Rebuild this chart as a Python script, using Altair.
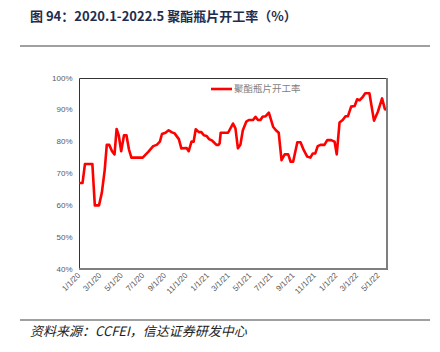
import altair as alt
import pandas as pd

dates = [
    "2020-01-01", "2020-01-11", "2020-01-18", "2020-02-08", "2020-02-15", "2020-02-27",
    "2020-03-06", "2020-03-14", "2020-03-20", "2020-03-27", "2020-04-04", "2020-04-11",
    "2020-04-17", "2020-04-23", "2020-04-30", "2020-05-08", "2020-05-15", "2020-05-22",
    "2020-05-29", "2020-06-30", "2020-07-16", "2020-07-30", "2020-08-09", "2020-08-18",
    "2020-08-24", "2020-09-03", "2020-09-12", "2020-09-20", "2020-09-29", "2020-10-11",
    "2020-10-18", "2020-11-02", "2020-11-08", "2020-11-16", "2020-11-22", "2020-11-28",
    "2020-12-07", "2020-12-14", "2020-12-21", "2020-12-29", "2021-01-05", "2021-01-14",
    "2021-01-26", "2021-02-01", "2021-02-04", "2021-02-07", "2021-02-28", "2021-03-14",
    "2021-03-21", "2021-03-28", "2021-04-04", "2021-04-11", "2021-04-21", "2021-04-28",
    "2021-05-10", "2021-05-17", "2021-05-24", "2021-05-31", "2021-06-06", "2021-06-15",
    "2021-06-24", "2021-07-06", "2021-07-14", "2021-07-22", "2021-07-30", "2021-08-08",
    "2021-08-18", "2021-08-25", "2021-09-01", "2021-09-13", "2021-09-22", "2021-10-01",
    "2021-10-11", "2021-10-20", "2021-10-27", "2021-11-03", "2021-11-10", "2021-11-18",
    "2021-11-29", "2021-12-07", "2021-12-18", "2021-12-28", "2022-01-03", "2022-01-11",
    "2022-01-20", "2022-01-28", "2022-02-04", "2022-02-13", "2022-02-23", "2022-03-02",
    "2022-03-09", "2022-03-17", "2022-03-25", "2022-04-06", "2022-04-19", "2022-04-30",
    "2022-05-12", "2022-05-20", "2022-05-26",
]
rates = [
    67, 67, 73, 73, 60, 60,
    64, 71, 79, 79, 77, 76,
    84, 82, 77, 82, 82, 77.6,
    75, 75, 76.8, 78.6, 79, 80,
    82.4, 82.8, 83.6, 83, 82.6, 80.8,
    77.9, 78, 77, 80, 80, 83.9,
    83, 83, 82, 81.8, 80.8, 80.3,
    79, 79, 79.5, 82.8, 82.8, 85.7,
    84.2, 77.9, 79, 83.6, 86.3, 86.8,
    86.8, 87.8, 86.8, 86.8, 87.8, 88,
    89.1, 84.7, 83.6, 82.8, 74.2, 76,
    76, 73.7, 73.7, 79.8, 79.8, 77.4,
    75.3, 75, 76.3, 76.3, 78.6, 79,
    79, 80.5, 80.5, 80, 76, 86,
    86.8, 88, 88, 91, 91.2, 93.3,
    93, 93.9, 95.2, 95.2, 86.6, 89.4,
    93.6, 90.2, 90,
]
tick_dates = [
    "2020-01-01", "2020-03-01", "2020-05-01", "2020-07-01", "2020-09-01", "2020-11-01",
    "2021-01-01", "2021-03-01", "2021-05-01", "2021-07-01", "2021-09-01", "2021-11-01",
    "2022-01-01", "2022-03-01", "2022-05-01",
]
y_ticks = [0.4, 0.5, 0.6, 0.7, 0.8, 0.9, 1.0]
series_name = "聚酯瓶片开工率"
title_text = "图 94：2020.1-2022.5 聚酯瓶片开工率（%）"
source_text = "资料来源：CCFEI，信达证券研发中心"

df = pd.DataFrame({"date": pd.to_datetime(dates), "rate": [r / 100 for r in rates]})

W, H = 308, 191
one = alt.Data(values=[{}])

line = alt.Chart(df).mark_line(color="#FF0000", strokeWidth=2.6, strokeJoin="round").encode(
    x=alt.X(
        "date:T",
        scale=alt.Scale(domain=["2020-01-01", "2022-05-26"]),
        axis=alt.Axis(
            values=[pd.Timestamp(d).isoformat() for d in tick_dates],
            format="%-m/%-d/%y",
            labelAngle=-45,
            labelAlign="right",
            labelBaseline="middle",
            labelPadding=5,
            labelFontSize=8,
            labelColor="#595959",
            labelFont="Liberation Sans",
            ticks=False,
            domain=False,
            grid=False,
            title=None,
            labelOverlap=False,
        ),
    ),
    y=alt.Y(
        "rate:Q",
        scale=alt.Scale(domain=[0.4, 1.0], nice=False, zero=False),
        axis=alt.Axis(
            values=y_ticks,
            format=".0%",
            labelFontSize=8,
            labelColor="#595959",
            labelFont="Liberation Sans",
            labelPadding=7,
            ticks=False,
            domain=False,
            grid=False,
            title=None,
        ),
    ),
)

legend_line = alt.Chart(one).mark_rule(color="#FF0000", strokeWidth=2.6).encode(
    x=alt.value(132), x2=alt.value(153), y=alt.value(11)
)
legend_text = alt.Chart(one).mark_text(
    text=series_name, align="left", baseline="middle", fontSize=9.5,
    color="#7f7f7f", font="Noto Sans CJK SC"
).encode(x=alt.value(155), y=alt.value(11))

title = alt.Chart(one).mark_text(
    text=title_text, align="left", baseline="middle", fontSize=13, fontWeight="bold",
    color="#1f2d4d", font="Noto Sans CJK SC"
).encode(x=alt.value(-49), y=alt.value(-61))
top_rule = alt.Chart(one).mark_rule(color="#808080", strokeWidth=1.5).encode(
    x=alt.value(-59), x2=alt.value(351), y=alt.value(-32)
)
bottom_rule = alt.Chart(one).mark_rule(color="#808080", strokeWidth=1.5).encode(
    x=alt.value(-59), x2=alt.value(351), y=alt.value(242)
)
source = alt.Chart(one).mark_text(
    text=source_text, align="left", baseline="middle", fontSize=13, fontStyle="italic",
    color="#222222", font="Noto Sans CJK SC"
).encode(x=alt.value(-49), y=alt.value(254))

right_edge = alt.Chart(one).mark_rule(color="#7f7f7f", strokeWidth=2).encode(
    x=alt.value(W), y=alt.value(0), y2=alt.value(H)
)
bottom_edge = alt.Chart(one).mark_rule(color="#7f7f7f", strokeWidth=2).encode(
    x=alt.value(0), x2=alt.value(W), y=alt.value(H)
)

chart = alt.layer(
    line, right_edge, bottom_edge, legend_line, legend_text, title, top_rule, bottom_rule, source
).properties(
    width=W,
    height=H,
    autosize=alt.AutoSizeParams(type="none"),
    padding={"left": 79, "top": 78, "right": 53, "bottom": 83},
    background="white",
).configure_view(stroke="#333333", strokeWidth=1)

chart.save("out.html", embed_options={"renderer": "svg", "actions": False})
